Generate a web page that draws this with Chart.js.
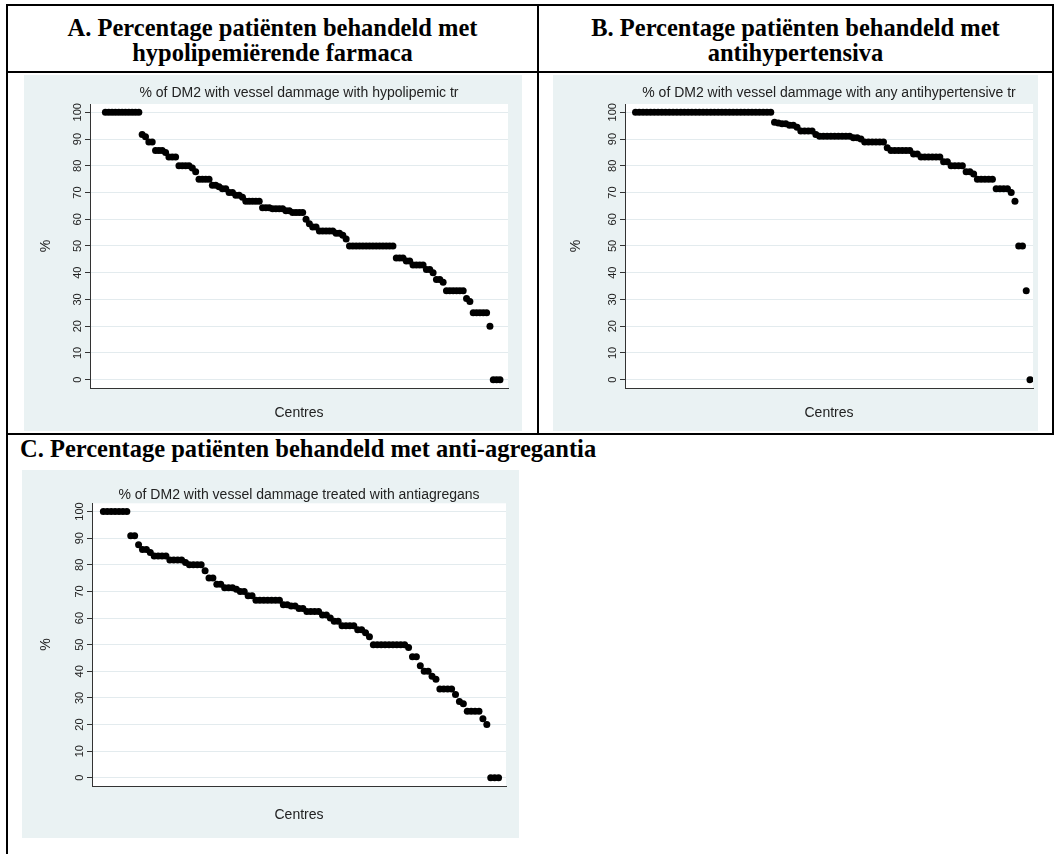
<!DOCTYPE html>
<html>
<head>
<meta charset="utf-8">
<script src="https://cdn.jsdelivr.net/npm/chart.js@4.4.1/dist/chart.umd.min.js"></script>
<style>
  body { margin: 0; background: #fff; width: 1054px; height: 854px; position: relative; overflow: hidden;
         font-family: "Liberation Serif", "Times New Roman", serif; }
  .ln { position: absolute; background: #000; }
  .hdr { position: absolute; font-weight: bold; font-size: 24.5px; line-height: 25px; color: #000; white-space: nowrap; }
  .panel { position: absolute; background: #eaf2f3; }
  .panel canvas { display: block; }
</style>
</head>
<body>
<div class="ln" style="left:6px;top:4px;width:1048px;height:2px"></div>
<div class="ln" style="left:6px;top:4px;width:2px;height:850px"></div>
<div class="ln" style="left:1052px;top:4px;width:2px;height:431px"></div>
<div class="ln" style="left:537px;top:4px;width:2px;height:431px"></div>
<div class="ln" style="left:6px;top:71px;width:1048px;height:2px"></div>
<div class="ln" style="left:6px;top:433px;width:1048px;height:2px"></div>

<div class="hdr" style="left:8px;top:15px;width:529px;text-align:center">A. Percentage patiënten behandeld met<br>hypolipemiërende farmaca</div>
<div class="hdr" style="left:539px;top:15px;width:513px;text-align:center">B. Percentage patiënten behandeld met<br>antihypertensiva</div>
<div class="hdr" style="left:20px;top:436px">C. Percentage patiënten behandeld met anti-agregantia</div>

<div class="panel" style="left:24px;top:75px;width:498px;height:356px"><canvas id="chartA" width="498" height="356"></canvas></div>
<div class="panel" style="left:553px;top:75px;width:485px;height:356px"><canvas id="chartB" width="485" height="356"></canvas></div>
<div class="panel" style="left:22px;top:470px;width:497px;height:368px"><canvas id="chartC" width="497" height="368"></canvas></div>

<script>
// y axis ticks shared by all three panels
const yTicks = [0, 10, 20, 30, 40, 50, 60, 70, 80, 90, 100];

// A: % with hypolipemic treatment, centres sorted high -> low
const hypolipemic = [
  100, 100, 100, 100, 100, 100, 100, 100, 100, 100, 100,
  91.7, 90.9, 88.9, 88.9, 85.7, 85.7, 85.7, 85, 83.3, 83.3, 83.3,
  80, 80, 80, 80, 79.2, 77.8, 75, 75, 75, 75, 72.7, 72.7, 72.2, 71.4, 71.4,
  70, 70, 69, 69, 68.2, 66.7, 66.7, 66.7, 66.7, 66.7, 64.3, 64.3, 64.3,
  63.9, 63.9, 63.9, 63.9, 63.2, 63.2, 62.5, 62.5, 62.5, 62.5, 60, 58.3, 57.1, 57.1,
  55.6, 55.6, 55.6, 55.6, 55.6, 54.8, 54.8, 54, 52.6,
  50, 50, 50, 50, 50, 50, 50, 50, 50, 50, 50, 50, 50, 50,
  45.5, 45.5, 45.5, 44.4, 44.4, 42.9, 42.9, 42.9, 42.9, 41.2, 41.2, 40, 37.5, 37.5, 36.4,
  33.3, 33.3, 33.3, 33.3, 33.3, 33.3, 30.4, 29.2,
  25, 25, 25, 25, 25, 20, 0, 0, 0
];

// B: % with any antihypertensive treatment
const antihypertensive = [
  100, 100, 100, 100, 100, 100, 100, 100, 100, 100,
  100, 100, 100, 100, 100, 100, 100, 100, 100, 100,
  100, 100, 100, 100, 100, 100, 100, 100, 100, 100,
  100, 100, 100, 100, 100, 100, 100,
  96.3, 96, 95.7, 95.7, 95.2, 95.2, 94.4, 93, 93, 93, 93, 91.7,
  91, 91, 91, 91, 91, 91, 91, 91, 91, 90.5, 90.5, 90,
  88.9, 88.9, 88.9, 88.9, 88.9, 88.9, 86.7,
  85.7, 85.7, 85.7, 85.7, 85.7, 85.7, 84.4, 84.4,
  83.3, 83.3, 83.3, 83.3, 83.3, 83.3, 81.5, 81.5,
  80, 80, 80, 80, 77.8, 77.8, 76.9, 75, 75, 75, 75, 75,
  71.4, 71.4, 71.4, 71.4, 70, 66.7, 50, 50, 33.3, 0
];

// C: % treated with antiagregans
const antiagregans = [
  100, 100, 100, 100, 100, 100, 100,
  90.9, 90.9, 87.5, 85.7, 85.7, 84.6, 83.3, 83.3, 83.3, 83.3,
  81.8, 81.8, 81.8, 81.8, 80.9, 80, 80, 80, 80, 77.8, 75, 75,
  72.7, 72.7, 71.4, 71.4, 71.4, 70.8, 70, 70, 68.4, 68.4,
  66.7, 66.7, 66.7, 66.7, 66.7, 66.7, 66.7, 65, 65, 64.5, 64.5, 63.6, 63.6,
  62.5, 62.5, 62.5, 62.5, 61.1, 61.1, 60, 58.8, 58.8, 57.1, 57.1, 57.1, 57.1,
  55.6, 55.6, 54.5, 53,
  50, 50, 50, 50, 50, 50, 50, 50, 50, 48.9, 45.5, 45.5, 42.1, 40, 40, 38.1, 37,
  33.3, 33.3, 33.3, 33.3, 31.3, 28.6, 27.8, 25, 25, 25, 25, 22.2, 20, 0, 0, 0
];

const SANS = '"Liberation Sans", Arial, sans-serif';
const TXT = '#222';

// white plot region like Stata's s2color scheme
const plotBg = {
  id: 'plotBg',
  beforeDraw(chart) {
    const { ctx, chartArea: a } = chart;
    ctx.save();
    ctx.fillStyle = '#fff';
    ctx.fillRect(a.left, a.top, a.right - a.left, a.bottom - a.top);
    ctx.restore();
  }
};

// vertical (rotated) y tick labels
const sideTicks = {
  id: 'sideTicks',
  afterDraw(chart) {
    const ys = chart.scales.y, ctx = chart.ctx;
    ctx.save();
    ctx.font = '11px ' + SANS;
    ctx.fillStyle = TXT;
    ctx.textAlign = 'center';
    ctx.textBaseline = 'alphabetic';
    ys.ticks.forEach(t => {
      const py = ys.getPixelForValue(t.value);
      ctx.save();
      ctx.translate(chart.chartArea.left - 9, py);
      ctx.rotate(-Math.PI / 2);
      ctx.fillText(String(t.value), 0, 0);
      ctx.restore();
    });
    ctx.restore();
  }
};

function makeChart(id, values, cfg) {
  const pts = values.map((v, i) => ({ x: i, y: v }));
  return new Chart(document.getElementById(id), {
    type: 'scatter',
    data: { datasets: [{ data: pts, pointRadius: 3.5, pointBackgroundColor: '#000', pointBorderWidth: 0, showLine: false }] },
    plugins: [plotBg, sideTicks],
    options: {
      responsive: false,
      animation: false,
      layout: { padding: { left: 0, right: cfg.padRight, top: 0, bottom: 0 } },
      plugins: {
        legend: { display: false },
        tooltip: { enabled: false },
        title: {
          display: true, text: cfg.title, fullSize: false, color: TXT,
          font: { family: SANS, size: 14, weight: 'normal' },
          padding: cfg.titlePad
        }
      },
      scales: {
        x: {
          type: 'linear', min: cfg.xMin, max: cfg.xMax,
          ticks: { display: false },
          grid: { display: false, drawTicks: false },
          border: { display: true, color: '#333', width: 1 },
          title: { display: true, text: 'Centres', color: TXT, font: { family: SANS, size: 14 }, padding: cfg.xTitlePad }
        },
        y: {
          min: -3.1, max: 103.1,
          afterBuildTicks: s => { s.ticks = yTicks.map(v => ({ value: v })); },
          ticks: { display: false },
          grid: { color: '#e3ebee', lineWidth: 1, tickColor: '#333', tickLength: 5, drawTicks: true },
          border: { display: true, color: '#333', width: 1 },
          title: { display: true, text: '%', color: TXT, font: { family: SANS, size: 14 }, padding: cfg.yTitlePad }
        }
      }
    }
  });
}

makeChart('chartA', hypolipemic, {
  title: '% of DM2 with vessel dammage with hypolipemic tr',
  padRight: 14, xMin: -4.6, xMax: 120.4,
  titlePad: { top: 9.6, bottom: 2.6 },
  xTitlePad: { top: 16.6, bottom: 9.6 },
  yTitlePad: { top: 13.6, bottom: 30.6 }
});

makeChart('chartB', antihypertensive, {
  title: '% of DM2 with vessel dammage with any antihypertensive tr',
  padRight: 5, xMin: -2.8, xMax: 105.8,
  titlePad: { top: 9.6, bottom: 2.6 },
  xTitlePad: { top: 16.6, bottom: 9.6 },
  yTitlePad: { top: 14.6, bottom: 35.6 }
});

makeChart('chartC', antiagregans, {
  title: '% of DM2 with vessel dammage treated with antiagregans',
  padRight: 13, xMin: -2.9, xMax: 102.9,
  titlePad: { top: 16.5, bottom: 0 },
  xTitlePad: { top: 20.6, bottom: 14.6 },
  yTitlePad: { top: 15.6, bottom: 32.6 }
});
</script>
</body>
</html>
